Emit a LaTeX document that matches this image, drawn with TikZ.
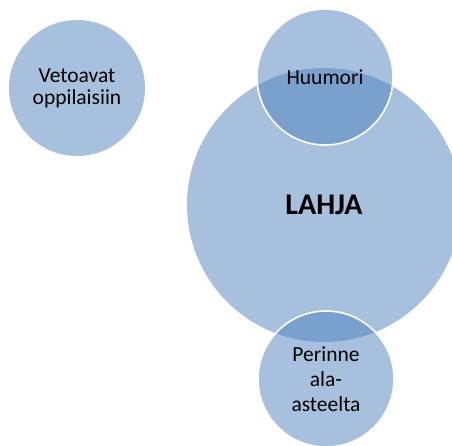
\documentclass[tikz,border=0pt]{standalone}
\usepackage{fontspec}
\setmainfont{Carlito}
\definecolor{accent}{HTML}{4F81BD}
\begin{document}
\begin{tikzpicture}[x=1pt,y=-1pt,
  bub/.style={circle, inner sep=0pt, fill=accent, fill opacity=0.5,
    text opacity=1, text=black, align=center, font=\fontsize{21.5}{22}\selectfont},
  ring/.style={bub, draw=white, draw opacity=1, line width=1.6pt}]
  \useasboundingbox (0,0) rectangle (452,446);
  \clip (0,0) rectangle (452,446);
  % left bubble
  \node[bub, minimum size=136pt] (vet) at (77,88) {Vetoavat\\oppilaisiin};
  % central bubble
  \node[bub, minimum size=274pt, font=\fontsize{30}{34}\selectfont\bfseries] (lahja) at (324,205) {LAHJA};
  % bubbles overlapping the central one
  \node[ring, minimum size=136pt] (huu) at (325,77) {Huumori};
  \node[ring, minimum size=136pt, font=\fontsize{21.5}{25}\selectfont] (per) at (326,379) {Perinne\\ala-\\asteelta};
\end{tikzpicture}
\end{document}
